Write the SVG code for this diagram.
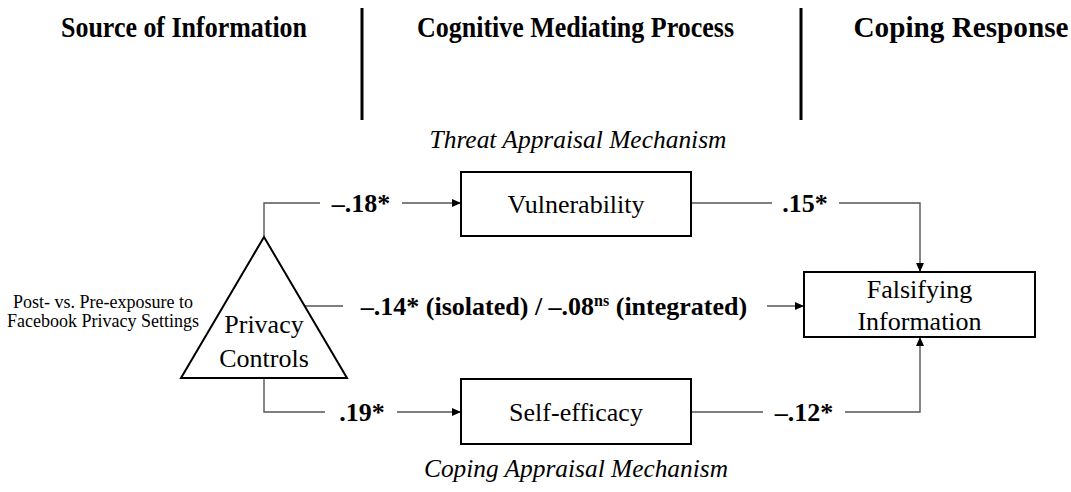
<svg xmlns="http://www.w3.org/2000/svg" width="1071" height="492" viewBox="0 0 1071 492">
  <style>
    text { font-family: "Liberation Serif", "Times New Roman", serif; fill: #000; }
    .hdr { font-size: 29px; font-weight: bold; text-anchor: middle; }
    .cap { font-size: 26px; font-style: italic; text-anchor: middle; }
    .node { font-size: 26px; text-anchor: middle; }
    .lbl { font-size: 26px; font-weight: bold; text-anchor: middle; }
    .src { font-size: 18px; text-anchor: middle; }
    .box { fill: #fff; stroke: #000; stroke-width: 2; }
    .conn { fill: none; stroke: #555; stroke-width: 1.4; }
    .div { stroke: #000; stroke-width: 3; }
  </style>
  <defs>
    <marker id="arr" markerUnits="userSpaceOnUse" markerWidth="10" markerHeight="9" refX="9" refY="4" orient="auto">
      <path d="M0,0 L9,4 L0,8 z" fill="#000"/>
    </marker>
  </defs>
  <rect width="1071" height="492" fill="#fff"/>

  <g id="headers">
    <text class="hdr" x="184" y="37" textLength="246" lengthAdjust="spacingAndGlyphs">Source of Information</text>
    <text class="hdr" x="575.5" y="37" textLength="317" lengthAdjust="spacingAndGlyphs">Cognitive Mediating Process</text>
    <text class="hdr" x="961" y="37" textLength="215" lengthAdjust="spacingAndGlyphs">Coping Response</text>
    <line class="div" x1="362" y1="8" x2="362" y2="120"/>
    <line class="div" x1="801" y1="8" x2="801" y2="120"/>
  </g>

  <g id="captions">
    <text class="cap" x="578" y="148" textLength="297" lengthAdjust="spacingAndGlyphs">Threat Appraisal Mechanism</text>
    <text class="cap" x="576" y="477" textLength="304" lengthAdjust="spacingAndGlyphs">Coping Appraisal Mechanism</text>
  </g>

  <g id="connectors">
    <path class="conn" d="M264,237 V203 H320"/>
    <path class="conn" d="M402,203 H461" marker-end="url(#arr)"/>
    <text class="lbl" x="361" y="212">–.18*</text>

    <path class="conn" d="M691,203 H772"/>
    <path class="conn" d="M839,203 H920 V272" marker-end="url(#arr)"/>
    <text class="lbl" x="805" y="212">.15*</text>

    <path class="conn" d="M305,306 H343"/>
    <path class="conn" d="M767,306 H804" marker-end="url(#arr)"/>
    <text class="lbl" x="554" y="315">–.14* (isolated) / –.08<tspan font-size="16" dy="-9">ns</tspan><tspan dy="9"> (integrated)</tspan></text>

    <path class="conn" d="M264,378 V412 H325"/>
    <path class="conn" d="M397,412 H461" marker-end="url(#arr)"/>
    <text class="lbl" x="362" y="421">.19*</text>

    <path class="conn" d="M691,412 H763"/>
    <path class="conn" d="M845,412 H920 V337" marker-end="url(#arr)"/>
    <text class="lbl" x="804" y="421">–.12*</text>
  </g>

  <g id="privacy-controls">
    <polygon class="box" points="264,237 347,378 181,378"/>
    <text class="node" x="264" y="333">Privacy</text>
    <text class="node" x="264" y="367">Controls</text>
    <text class="src" x="103" y="308">Post- vs. Pre-exposure to</text>
    <text class="src" x="103" y="327">Facebook Privacy Settings</text>
  </g>

  <g id="vulnerability">
    <rect class="box" x="461" y="172" width="230" height="64"/>
    <text class="node" x="576" y="213">Vulnerability</text>
  </g>

  <g id="self-efficacy">
    <rect class="box" x="461" y="379" width="230" height="65"/>
    <text class="node" x="576" y="421">Self-efficacy</text>
  </g>

  <g id="falsifying-information">
    <rect class="box" x="804" y="272" width="231" height="65"/>
    <text class="node" x="919.5" y="298">Falsifying</text>
    <text class="node" x="919.5" y="330">Information</text>
  </g>
</svg>
